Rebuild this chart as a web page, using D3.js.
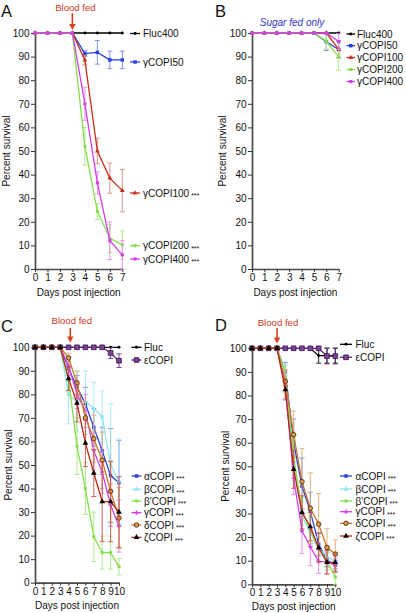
<!DOCTYPE html>
<html><head><meta charset="utf-8">
<script src="https://cdn.jsdelivr.net/npm/d3@7"></script>
<style>
body{margin:0;background:#fff}
svg{display:block}
text{font-family:"Liberation Sans",Arial,Helvetica,sans-serif;fill:#111}
</style>
</head><body>
<svg id="chart" width="406" height="613"></svg>
<script>
// ---------------- DATA ----------------
const daysAB = [0,1,2,3,4,5,6,7];
const daysCD = [0,1,2,3,4,5,6,7,8,9,10];
const yTicks = [0,10,20,30,40,50,60,70,80,90,100];

// Panel A (blood fed)
const A_names = ["Fluc400","γCOPI50","γCOPI100","γCOPI200","γCOPI400"];
const A_fluc400 = [100,100,100,100,100,100,100,100];
const A_fluc400Err = [0,0,0,0,0,0,0,0];
const A_g50 = [100,100,100,100,91.3,91.8,88.6,88.6];
const A_g50Err = [0,0,0,0,1.2,5,3.7,3.7];
const A_g100 = [100,100,100,100,88.5,50,38.5,33.2];
const A_g100Err = [0,0,0,0,2,5.4,6.4,9];
const A_g200 = [100,100,100,100,52,24.4,13,10.2];
const A_g200Err = [0,0,0,0,8,3.4,6,6];
const A_g400 = [100,100,100,100,70,36.5,12,6];
const A_g400Err = [0,0,0,0,7,4.7,8,6];
const A_stars = [false,false,true,true,true];

// Panel B (sugar fed only)
const B_names = ["Fluc400","γCOPI50","γCOPI100","γCOPI200","γCOPI400"];
const B_fluc400 = [100,100,100,100,100,100,100,100];
const B_fluc400Err = [0,0,0,0,0,0,0,0];
const B_g50 = [100,100,100,100,100,100,96.3,93];
const B_g50Err = [0,0,0,0,0,0,3.7,3.5];
const B_g100 = [100,100,100,100,100,100,100,93.1];
const B_g100Err = [0,0,0,0,0,0,0,3.5];
const B_g200 = [100,100,100,100,100,100,96.5,89.9];
const B_g200Err = [0,0,0,0,0,0,3.4,5.7];
const B_g400 = [100,100,100,100,100,100,100,96.4];
const B_g400Err = [0,0,0,0,0,0,0,3.4];

// Panel C
const C_names = ["Fluc","εCOPI","αCOPI","βCOPI","β'COPI","γCOPI","δCOPI","ζCOPI"];
const C_fluc = [100,100,100,100,100,100,100,100,100,100,100];
const C_flucErr = [0,0,0,0,0,0,0,0,0,0,0];
const C_eps = [100,100,100,100,100,100,100,100,100,97.6,94.3];
const C_epsErr = [0,0,0,0,0,0,0,0,0,2.3,2.9];
const C_alpha = [100,100,100,100,91,83,76,66,56,45.5,42.5];
const C_alphaErr = [0,0,0,0,3,5,7,8,10,20,18];
const C_beta = [100,100,100,100,80,77,77,74,70.5,50,43];
const C_betaErr = [0,0,0,0,12.5,13,13,11,11,26,18];
const C_bprime = [100,100,100,100,86,58,40,19.5,12.8,12.8,6.8];
const C_bprimeErr = [0,0,0,0,5,12,11,10.5,7,7,3.5];
const C_gamma = [100,100,100,100,92,80,73,56,47,33,24];
const C_gammaErr = [0,0,0,0,4,6,7,8,9,9,11];
const C_delta = [100,100,100,100,95.5,84.8,70,61.2,52,38.8,27.5];
const C_deltaErr = [0,0,0,0,2,5,7,10,12,13,13];
const C_zeta = [100,100,100,100,86.7,76.3,59.3,46.6,34.4,34.4,30];
const C_zetaErr = [0,0,0,0,5,8,10,10,17,17,15];

// Panel D
const D_fluc = [100,100,100,100,100,100,100,100,96.9,96.9,96.9];
const D_flucErr = [0,0,0,0,0,0,0,0,3.2,3.2,3.2];
const D_eps = [100,100,100,100,100,100,100,100,100,96.7,96.7];
const D_epsErr = [0,0,0,0,0,0,0,0,0,3.3,3.3];
const D_alpha = [100,100,100,100,90,60,41.5,31,17,10.3,8.2];
const D_alphaErr = [0,0,0,0,4,10,12,8,5,3,2];
const D_beta = [100,100,100,100,89,52,29,22,15,12,9.5];
const D_betaErr = [0,0,0,0,4,8,6,6,5,4,3];
const D_bprime = [100,100,100,100,90,54,31,23,15,10,3];
const D_bprimeErr = [0,0,0,0,3,8,6,6,5,4,3];
const D_gamma = [100,100,100,100,84,45,22.6,15.9,9.6,9.6,8];
const D_gammaErr = [0,0,0,0,6,7,9.5,8,5,5,3];
const D_delta = [100,100,100,100,86,63.4,43.5,32.2,25.5,15.6,12.8];
const D_deltaErr = [0,0,0,0,5,10,14,15,13,8,6];
const D_zeta = [100,100,100,100,82.5,48.7,30.5,24.4,15.5,9.3,9.3];
const D_zetaErr = [0,0,0,0,4,8,7,6,6,5,4];

// ---------------- STYLES ----------------
const ST = {
  black:  {line:"#000", err:"#000", sym:d3.symbolCircle, size:7, fill:"#000", stroke:"none"},
  blue:   {line:"#2b3fe0", err:"#7081f0", sym:d3.symbolSquare, size:12, fill:"#2b3fe0", stroke:"none"},
  red:    {line:"#c9301c", err:"#d9806e", sym:d3.symbolTriangle, size:10, fill:"#c9301c", stroke:"none"},
  green:  {line:"#84e04a", err:"#a6e67e", sym:d3.symbolSquare, size:9, fill:"#84e04a", stroke:"none"},
  magenta:{line:"#d43ee6", err:"#e184ee", sym:d3.symbolSquare, size:10, fill:"#d43ee6", stroke:"none"},
  cyan:   {line:"#8ee6f2", err:"#9ee8f4", sym:d3.symbolTriangle, size:10, fill:"#8ee6f2", stroke:"none"},
  eps:    {line:"#5a2470", err:"#5a2470", sym:d3.symbolSquare, size:22, fill:"#7a4690", stroke:"#3a1050"},
  delta:  {line:"#c8782a", err:"#e0a868", sym:d3.symbolCircle, size:16, fill:"#e0a040", stroke:"#3a2008"},
  zeta:   {line:"#b4281a", err:"#c84a38", sym:d3.symbolTriangle, size:14, fill:"#000", stroke:"none"},
  magC:   {line:"#d43ee6", err:"#e184ee", sym:d3.symbolCross, size:10, fill:"#d43ee6", stroke:"none"}
};

const svg = d3.select("#chart");

function drawPanel(cfg){
  const g = svg.append("g");
  const x = d3.scaleLinear().domain([0, cfg.xMax]).range(cfg.xRange);
  const y = d3.scaleLinear().domain([0,100]).range(cfg.yRange);

  // axes
  const ya = g.append("g").attr("transform",`translate(${cfg.xRange[0]},0)`)
    .call(d3.axisLeft(y).tickValues(yTicks).tickSize(4).tickSizeOuter(0).tickPadding(1.5));
  const xa = g.append("g").attr("transform",`translate(0,${cfg.yRange[0]})`)
    .call(d3.axisBottom(x).tickValues(cfg.days).tickFormat(d3.format("d")).tickSize(3).tickSizeOuter(0).tickPadding(2));
  [ya,xa].forEach(a=>{
    a.select(".domain").attr("stroke","#4a4a4a").attr("stroke-width",1.7);
    a.selectAll(".tick line").attr("stroke","#333").attr("stroke-width",1);
    a.selectAll(".tick text").attr("font-size",10).attr("fill","#111")
      .attr("font-family","Liberation Sans, Arial, sans-serif");
  });

  // series
  cfg.series.forEach(s=>{
    const st = s.style;
    const pts = cfg.days.map((d,i)=>({d, v:s.values[i], e:s.errs[i]}));
    const eg = g.append("g").attr("stroke",st.err).attr("stroke-width",1).attr("opacity",0.85);
    pts.filter(p=>p.e>0).forEach(p=>{
      const lo = Math.max(0,p.v-p.e), hi = Math.min(100.5,p.v+p.e);
      eg.append("line").attr("x1",x(p.d)).attr("x2",x(p.d)).attr("y1",y(lo)).attr("y2",y(hi));
      [lo,hi].forEach(b=>eg.append("line").attr("x1",x(p.d)-2.5).attr("x2",x(p.d)+2.5).attr("y1",y(b)).attr("y2",y(b)));
    });
    g.append("path").datum(pts).attr("fill","none").attr("stroke",st.line).attr("stroke-width",1.3)
      .attr("d",d3.line().x(p=>x(p.d)).y(p=>y(p.v)));
    g.selectAll(null).data(pts).join("path")
      .attr("transform",p=>`translate(${x(p.d)},${y(p.v)})`)
      .attr("d",d3.symbol().type(st.sym).size(st.size))
      .attr("fill",st.fill).attr("stroke",st.stroke).attr("stroke-width",0.8);
  });

  // legend
  cfg.series.forEach(s=>{
    if(s.ly==null) return;
    const st = s.style, L = cfg.legend;
    g.append("line").attr("x1",L.x1).attr("x2",L.x2).attr("y1",s.ly).attr("y2",s.ly)
      .attr("stroke",st.line).attr("stroke-width",1.3);
    g.append("path").attr("transform",`translate(${(L.x1+L.x2)/2},${s.ly})`)
      .attr("d",d3.symbol().type(st.sym).size(st.size)).attr("fill",st.fill).attr("stroke",st.stroke).attr("stroke-width",0.8);
    const t = g.append("text").attr("x",L.tx).attr("y",s.ly).attr("dy","0.35em").attr("font-size",10).text(s.name);
    if(s.stars){
      t.append("tspan").attr("font-size",7).attr("dx",2).attr("dy","0.25em").text("***");
    }
  });

  // labels
  g.append("text").attr("x",cfg.letter[0]).attr("y",cfg.letter[1]).attr("font-size",16.5).attr("fill","#000").text(cfg.letterText);
  g.append("text").attr("x",(cfg.xRange[0]+cfg.xRange[1])/2 + (cfg.xLabDx||0)).attr("y",cfg.xLabY)
    .attr("text-anchor","middle").attr("font-size",10).text("Days post injection");
  g.append("text").attr("transform",`translate(${cfg.yLabX},${(cfg.yRange[0]+cfg.yRange[1])/2}) rotate(-90)`)
    .attr("text-anchor","middle").attr("dy","0.35em").attr("font-size",10).text("Percent survival");

  if(cfg.bloodFed!=null){
    const ax = x(cfg.bloodFed);
    g.append("text").attr("x",ax+cfg.bfDx).attr("y",cfg.bfY).attr("text-anchor","middle").attr("font-size",9.6)
      .style("fill","#d2381e").text("Blood fed");
    g.append("line").attr("x1",ax).attr("x2",ax).attr("y1",cfg.arrow[0]).attr("y2",cfg.arrow[1]-4)
      .attr("stroke","#d8401e").attr("stroke-width",1.6);
    g.append("path").attr("d",`M${ax-3.2},${cfg.arrow[1]-6} L${ax+3.2},${cfg.arrow[1]-6} L${ax},${cfg.arrow[1]} Z`).attr("fill","#d8401e");
  }
  if(cfg.note){
    g.append("text").attr("x",cfg.note.x).attr("y",cfg.note.y).attr("text-anchor","middle")
      .attr("font-size",10).attr("font-style","italic").style("fill","#3434cc").text(cfg.note.text);
  }
}

// Panel A
drawPanel({
  days:daysAB, xMax:7, xRange:[35,122.3], yRange:[269,33],
  letterText:"A", letter:[1,16.8], xLabY:296, yLabX:6,
  bloodFed:3, bfDx:3, bfY:10.5, arrow:[13,30],
  legend:{x1:130,x2:140,tx:143},
  series:[
    {name:A_names[0], values:A_fluc400, errs:A_fluc400Err, style:ST.black, ly:33.5, stars:A_stars[0]},
    {name:A_names[1], values:A_g50, errs:A_g50Err, style:ST.blue, ly:62, stars:A_stars[1]},
    {name:A_names[2], values:A_g100, errs:A_g100Err, style:ST.red, ly:193, stars:A_stars[2]},
    {name:A_names[3], values:A_g200, errs:A_g200Err, style:ST.green, ly:245.7, stars:A_stars[3]},
    {name:A_names[4], values:A_g400, errs:A_g400Err, style:ST.magenta, ly:259, stars:A_stars[4]}
  ]
});

// Panel B
drawPanel({
  days:daysAB, xMax:7, xRange:[252,338.7], yRange:[269,33],
  letterText:"B", letter:[215,16.8], xLabY:296, yLabX:222,
  note:{x:292,y:25.5,text:"Sugar fed only"},
  legend:{x1:346.5,x2:355,tx:357},
  series:[
    {name:B_names[0], values:B_fluc400, errs:B_fluc400Err, style:ST.black, ly:34},
    {name:B_names[1], values:B_g50, errs:B_g50Err, style:ST.blue, ly:45.7},
    {name:B_names[2], values:B_g100, errs:B_g100Err, style:ST.red, ly:57.5},
    {name:B_names[3], values:B_g200, errs:B_g200Err, style:ST.green, ly:69.5},
    {name:B_names[4], values:B_g400, errs:B_g400Err, style:ST.magenta, ly:81.5}
  ]
});

// Panel C
drawPanel({
  days:daysCD, xMax:10, xRange:[35,119], yRange:[582.7,347.3],
  letterText:"C", letter:[1,331.7], xLabY:609, yLabX:8,
  bloodFed:4.2, bfDx:1.5, bfY:324, arrow:[328,342.5],
  legend:{x1:131.5,x2:141.5,tx:144},
  series:[
    {name:C_names[0], values:C_fluc, errs:C_flucErr, style:ST.black, ly:347.3},
    {name:C_names[1], values:C_eps, errs:C_epsErr, style:ST.eps, ly:360},
    {name:C_names[2], values:C_alpha, errs:C_alphaErr, style:ST.blue, ly:476, stars:true},
    {name:C_names[3], values:C_beta, errs:C_betaErr, style:ST.cyan, ly:489.3, stars:true},
    {name:C_names[4], values:C_bprime, errs:C_bprimeErr, style:ST.green, ly:501, stars:true},
    {name:C_names[5], values:C_gamma, errs:C_gammaErr, style:ST.magC, ly:512.7, stars:true},
    {name:C_names[6], values:C_delta, errs:C_deltaErr, style:ST.delta, ly:525, stars:true},
    {name:C_names[7], values:C_zeta, errs:C_zetaErr, style:ST.zeta, ly:537.3, stars:true}
  ]
});

// Panel D
drawPanel({
  days:daysCD, xMax:10, xRange:[252,335.3], yRange:[584.3,348.3],
  letterText:"D", letter:[215,330.7], xLabY:610, yLabX:225.5,
  bloodFed:3, bfDx:1, bfY:326, arrow:[328,343.5],
  legend:{x1:340,x2:352,tx:355.5},
  series:[
    {name:C_names[0], values:D_fluc, errs:D_flucErr, style:ST.black, ly:344.3},
    {name:C_names[1], values:D_eps, errs:D_epsErr, style:ST.eps, ly:357.3},
    {name:C_names[2], values:D_alpha, errs:D_alphaErr, style:ST.blue, ly:476, stars:true},
    {name:C_names[3], values:D_beta, errs:D_betaErr, style:ST.cyan, ly:489, stars:true},
    {name:C_names[4], values:D_bprime, errs:D_bprimeErr, style:ST.green, ly:501, stars:true},
    {name:C_names[5], values:D_gamma, errs:D_gammaErr, style:ST.magC, ly:511.7, stars:true},
    {name:C_names[6], values:D_delta, errs:D_deltaErr, style:ST.delta, ly:523.3, stars:true},
    {name:C_names[7], values:D_zeta, errs:D_zetaErr, style:ST.zeta, ly:536, stars:true}
  ]
});
</script>
</body></html>
